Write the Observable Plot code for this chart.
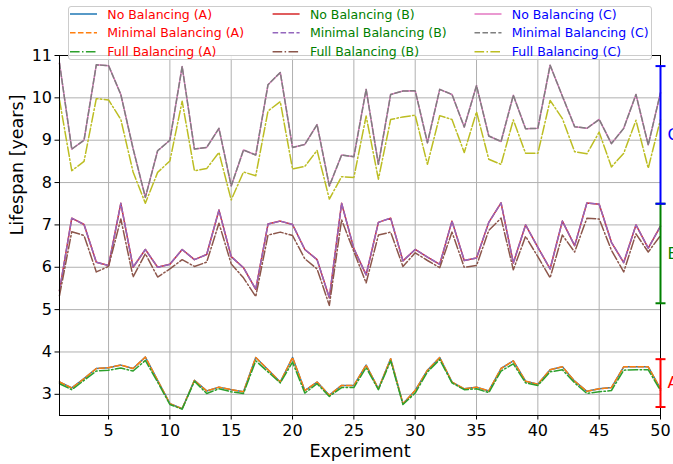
<!DOCTYPE html>
<html>
<head>
<meta charset="utf-8">
<script src="https://cdn.jsdelivr.net/npm/d3@7"></script>
<script src="https://cdn.jsdelivr.net/npm/@observablehq/plot@0.6"></script>
<style>
  html, body { margin: 0; padding: 0; background: white; }
  #wrap { position: relative; width: 673px; height: 464px; overflow: hidden; font-family: "DejaVu Sans", sans-serif; }
  #legend { position: absolute; left: 68px; top: 6px; width: 584px; height: 54px; box-sizing: border-box;
            border: 1px solid #cccccc; border-radius: 3px; background: rgba(255,255,255,0.8); }
</style>
</head>
<body>
<div id="wrap"><div id="chart"></div><div id="legend"></div></div>
<script>
// ---------------- data ----------------
const experiments = d3.range(1, 51);
const xTicks = [5, 10, 15, 20, 25, 30, 35, 40, 45, 50];
const yTicks = [3, 4, 5, 6, 7, 8, 9, 10, 11];

const A_no = [3.29,3.15,3.37,3.61,3.63,3.69,3.61,3.88,3.33,2.78, 2.66,3.33,3.08,3.17,3.11,3.06,3.87,3.58,3.29,3.87,
  3.09,3.29,2.98,3.21,3.21, 3.69,3.13,3.84,2.78,3.09, 3.57,3.87,3.29,3.13,3.17, 3.08,3.61,3.79,3.31,3.24,
  3.58,3.65,3.31,3.07,3.13, 3.16,3.65,3.65,3.65,3.13];
const A_min = [3.29,3.15,3.37,3.61,3.63,3.69,3.61,3.88,3.33,2.78, 2.66,3.33,3.08,3.17,3.11,3.06,3.87,3.58,3.29,3.87,
  3.09,3.29,2.98,3.21,3.21, 3.69,3.13,3.84,2.78,3.09, 3.57,3.87,3.29,3.13,3.17, 3.08,3.61,3.79,3.31,3.24,
  3.58,3.65,3.31,3.07,3.13, 3.16,3.65,3.65,3.65,3.13];
const A_full = [3.25,3.11,3.33,3.55,3.57,3.62,3.55,3.80,3.29,2.76, 2.65,3.31,3.02,3.13,3.06,3.02,3.79,3.53,3.27,3.76,
  3.03,3.25,2.95,3.16,3.16, 3.63,3.11,3.79,2.76,3.03, 3.53,3.82,3.27,3.11,3.13, 3.04,3.55,3.72,3.27,3.21,
  3.53,3.58,3.27,3.02,3.06, 3.09,3.57,3.58,3.58,3.09];

const B_no = [5.45,7.16,7.01,6.12,6.04,7.51,6.00,6.42,6.00,6.07, 6.42,6.18,6.30,7.35,6.25,5.99,5.48,7.02,7.09,7.01,
  6.42,6.18,5.28,7.51,6.44, 5.82,7.06,7.16,6.15,6.42, 6.24,6.07,7.09,6.16,6.22, 7.06,7.52,6.10,7.00,6.47,
  5.96,7.09,6.51,7.52,7.49, 6.59,6.11,7.00,6.45,6.97];
const B_min = [5.45,7.16,7.01,6.12,6.04,7.51,6.00,6.42,6.00,6.07, 6.42,6.18,6.30,7.35,6.25,5.99,5.48,7.02,7.09,7.01,
  6.42,6.18,5.28,7.51,6.44, 5.82,7.06,7.16,6.15,6.42, 6.24,6.07,7.09,6.16,6.22, 7.06,7.52,6.10,7.00,6.47,
  5.96,7.09,6.51,7.52,7.49, 6.59,6.11,7.00,6.45,6.97];
const B_full = [5.33,6.84,6.75,5.89,6.02,7.14,5.77,6.32,5.77,5.96, 6.18,6.02,6.12,7.04,6.08,5.75,5.31,6.76,6.83,6.75,
  6.20,5.96,5.10,7.12,6.37, 5.63,6.76,6.83,6.02,6.34, 6.16,5.99,6.83,6.00,6.04, 6.87,7.16,5.94,6.73,6.25,
  5.75,6.76,6.36,7.16,7.14, 6.40,5.89,6.79,6.36,6.75];

const C_no = [10.82,8.79,9.00,10.78,10.76,10.08,8.80,7.65,8.75,9.00, 10.74,8.79,8.83,9.28,7.92,8.77,8.65,10.31,10.60,8.83,
  8.90,9.37,7.92,8.65,8.61, 10.20,8.43,10.08,10.16,10.17, 8.94,10.20,10.08,9.31,10.29, 9.10,8.97,10.06,9.27,9.28,
  10.77,10.04,9.32,9.28,9.49, 8.92,9.28,10.08,8.89,10.12];
const C_min = [10.82,8.79,9.00,10.78,10.76,10.08,8.80,7.65,8.75,9.00, 10.74,8.79,8.83,9.28,7.92,8.77,8.65,10.31,10.60,8.83,
  8.90,9.37,7.92,8.65,8.61, 10.20,8.43,10.08,10.16,10.17, 8.94,10.20,10.08,9.31,10.29, 9.10,8.97,10.06,9.27,9.28,
  10.77,10.04,9.32,9.28,9.49, 8.92,9.28,10.08,8.89,10.12];
const C_full = [9.95,8.28,8.50,9.98,9.95,9.49,8.25,7.51,8.24,8.51, 9.92,8.28,8.33,8.71,7.59,8.25,8.16,9.69,9.91,8.32,
  8.38,8.76,7.61,8.14,8.12, 9.57,8.08,9.49,9.55,9.59, 8.43,9.58,9.49,8.71,9.67, 8.55,8.43,9.48,8.69,8.69,
  9.94,9.51,8.73,8.68,9.19, 8.37,8.69,9.47,8.34,9.49];

const seriesNames = ["No Balancing (A)","Minimal Balancing (A)","Full Balancing (A)",
  "No Balancing (B)","Minimal Balancing (B)","Full Balancing (B)",
  "No Balancing (C)","Minimal Balancing (C)","Full Balancing (C)"];
const seriesValues = [A_no, A_min, A_full, B_no, B_min, B_full, C_no, C_min, C_full];
const seriesColors = ["#1f77b4","#ff7f0e","#2ca02c","#d62728","#9467bd","#8c564b","#e377c2","#7f7f7f","#bcbd22"];
const seriesDash = [null, "5.55,2.4", "9.6,2.4,1.5,2.4", null, "5.55,2.4", "9.6,2.4,1.5,2.4", null, "5.55,2.4", "9.6,2.4,1.5,2.4"];

const groupNames = ["A", "B", "C"];
const groupColors = ["red", "green", "blue"];
const bracketLow = [2.70, 5.15, 7.50];
const bracketHigh = [3.83, 7.50, 10.75];

// ---------------- chart ----------------
const lastExp = experiments[experiments.length - 1];
const brackets = groupNames.map((g, i) => ({g, lo: bracketLow[i], hi: bracketHigh[i], c: groupColors[i], mid: (bracketLow[i] + bracketHigh[i]) / 2}));
const capEnds = brackets.flatMap(b => [{y: b.lo, c: b.c}, {y: b.hi, c: b.c}]);
const hSymbol = { draw(ctx, size) { const w = Math.sqrt(size / Math.PI); ctx.moveTo(-w, 0); ctx.lineTo(w, 0); } };

const lineMarks = seriesValues.map((vals, k) =>
  Plot.line(vals, {x: (d, i) => experiments[i], y: d => d, stroke: seriesColors[k], strokeWidth: 1.5,
    strokeDasharray: seriesDash[k] || undefined}));

const chart = Plot.plot({
  width: 673, height: 464,
  marginLeft: 59, marginRight: 13, marginTop: 55, marginBottom: 49,
  style: {fontFamily: "DejaVu Sans", fontSize: "16px", color: "black", background: "white", overflow: "visible"},
  x: {domain: [1, 50]},
  y: {domain: [2.5, 11]},
  marks: [
    Plot.gridX({ticks: xTicks, stroke: "#b0b0b0", strokeOpacity: 1, strokeWidth: 1}),
    Plot.gridY({ticks: yTicks, stroke: "#b0b0b0", strokeOpacity: 1, strokeWidth: 1}),
    ...lineMarks,
    Plot.frame({stroke: "black", strokeWidth: 1}),
    Plot.axisX({ticks: xTicks, tickSize: 4.5, tickPadding: 4.5, fontSize: 16, label: null}),
    Plot.axisY({ticks: yTicks, tickSize: 4.5, tickPadding: 3, fontSize: 16, label: null}),
    Plot.text(["Experiment"], {frameAnchor: "bottom", dy: 41.7, lineAnchor: "bottom", fontSize: 17.5}),
    Plot.text(["Lifespan [years]"], {frameAnchor: "left", dx: -36.2, rotate: -90, lineAnchor: "bottom", fontSize: 17.5}),
    Plot.ruleX(brackets, {x: () => lastExp, y1: "lo", y2: "hi", stroke: "c", strokeWidth: 2}),
    Plot.dot(capEnds, {x: () => lastExp, y: "y", r: 5, symbol: hSymbol, stroke: "c", strokeWidth: 2, fill: "none"}),
    Plot.text(brackets, {x: () => lastExp, y: "mid", text: "g", fill: "c", dx: 7, textAnchor: "start", fontSize: 16})
  ]
});
document.getElementById("chart").appendChild(chart);

// ---------------- legend ----------------
const colX = [2, 204.6, 406.5];
const rowY = [8, 26.7, 45.7];
const handleLen = 27, textGap = 10.3;
const ns = "http://www.w3.org/2000/svg";
const lsvg = document.createElementNS(ns, "svg");
lsvg.setAttribute("width", 582); lsvg.setAttribute("height", 52);
lsvg.style.position = "absolute"; lsvg.style.left = "-1px"; lsvg.style.top = "-1px"; lsvg.style.overflow = "visible";
seriesNames.forEach((name, k) => {
  const col = Math.floor(k / 3), row = k % 3;
  const x0 = colX[col], y0 = rowY[row];
  const ln = document.createElementNS(ns, "line");
  ln.setAttribute("x1", x0); ln.setAttribute("x2", x0 + handleLen);
  ln.setAttribute("y1", y0); ln.setAttribute("y2", y0);
  ln.setAttribute("stroke", seriesColors[k]); ln.setAttribute("stroke-width", 1.5);
  if (seriesDash[k]) ln.setAttribute("stroke-dasharray", seriesDash[k]);
  lsvg.appendChild(ln);
  const tx = document.createElementNS(ns, "text");
  tx.setAttribute("x", x0 + handleLen + textGap); tx.setAttribute("y", y0 + 4.6);
  tx.setAttribute("fill", groupColors[col]);
  tx.setAttribute("font-family", "DejaVu Sans"); tx.setAttribute("font-size", 12.5);
  tx.textContent = name;
  lsvg.appendChild(tx);
});
document.getElementById("legend").appendChild(lsvg);
</script>
</body>
</html>
